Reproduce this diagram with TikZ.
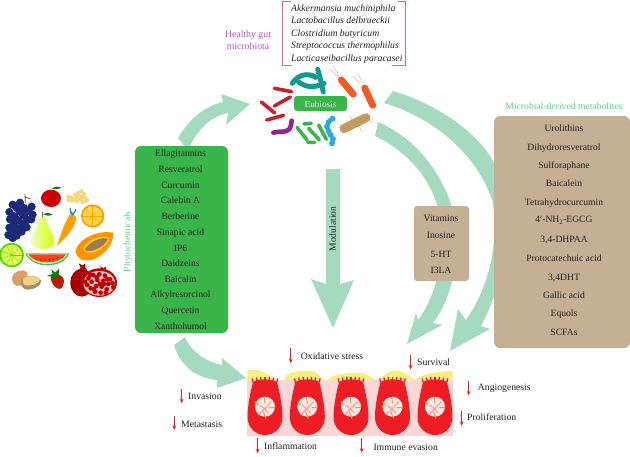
\documentclass[tikz,border=0pt]{standalone}
\usepackage{fontspec}
\setmainfont{Liberation Serif}
\usetikzlibrary{arrows.meta}
\definecolor{flow}{HTML}{A6DABF}
\definecolor{leafbox}{HTML}{39B54A}
\definecolor{tan}{HTML}{C5AF95}
\definecolor{ink}{HTML}{222222}
\definecolor{lightgreen}{HTML}{62D27F}
\definecolor{plum}{HTML}{BB55BB}
\definecolor{frame}{HTML}{DE6B75}
\definecolor{tissue}{HTML}{FBD6D6}
\definecolor{mucus}{HTML}{F8EE7E}
\definecolor{cellred}{HTML}{EE1C25}
\definecolor{spike}{HTML}{B9B92E}
\definecolor{nucleus}{HTML}{FBE6E4}
\definecolor{grapeblue}{HTML}{1D2A7A}
\definecolor{rodred}{HTML}{C4222E}
\definecolor{rodteal}{HTML}{14998F}
\definecolor{rodorange}{HTML}{F15A22}
\definecolor{rodbrown}{HTML}{C49A63}
\definecolor{rodblue}{HTML}{27AAE1}
\definecolor{rodpurple}{HTML}{92278F}
\tikzset{
  flowshape/.style={fill=flow,draw=none},
  evenline/.style={text height=7pt,text depth=0pt,inner sep=0pt},
  listtext/.style={evenline,font=\fontsize{9.6}{9.6}\selectfont,text=ink,anchor=center},
  marklabel/.style={evenline,font=\fontsize{9.7}{9.7}\selectfont,text=ink,anchor=west},
  strain/.style={evenline,font=\itshape\fontsize{9.7}{9.7}\selectfont,text=ink,anchor=west},
  downmark/.style={draw=cellred,line width=0.8pt,-{Stealth[length=4.5pt,width=3.8pt]}},
  bug/.style={line cap=round,line join=round},
  grape/.style={fill=grapeblue},
}
% red decrease marker with its caption
\newcommand{\decrease}[7]{%
  \coordinate (#1a) at (#2,#3);
  \coordinate (#1b) at (#2,#4);
  \draw[downmark] (#1a) -- (#1b);
  \node[marklabel] (#1) at (#5,#6) {#7};
}
\begin{document}
\begin{tikzpicture}[x=1pt,y=-1pt]
\useasboundingbox (0,0) rectangle (630,456);

% broad flow arrows, drawn first so that the panels cover them
\fill[flowshape] (178,138) .. controls (190,118) and (205,106) .. (223,102) -- (221,94) -- (250,104) -- (226,125) -- (228,113) .. controls (212,116) and (198,128) .. (188,150) -- cycle;
\fill[flowshape] (326,169) -- (340,169) -- (340,284) -- (354,280) -- (333,328) -- (311,279) -- (326,284) -- cycle;
\fill[flowshape] (393,91) .. controls (440,105) and (480,135) .. (494,163) .. controls (515,210) and (510,270) .. (481,326) -- (490,329) -- (450,351) -- (458,309) -- (466,320) .. controls (490,285) and (498,245) .. (493,203) .. controls (480,160) and (440,120) .. (384,103) -- cycle;
\fill[flowshape] (378,122) .. controls (415,138) and (440,170) .. (452,207) .. controls (462,245) and (455,295) .. (433,323) -- (442,325) -- (407,344) -- (416,313) -- (418,320) .. controls (440,290) and (447,245) .. (438,207) .. controls (428,175) and (405,150) .. (375,136) -- cycle;
\fill[flowshape] (174,345) -- (185,337) .. controls (190,350) and (205,362) .. (222,365) -- (222,358) -- (246,378) -- (217,388) -- (217,380) .. controls (195,378) and (180,365) .. (174,345) -- cycle;
\node[font=\fontsize{9.6}{9.6}\selectfont,text=ink,rotate=90,inner sep=0pt] (modulation) at (332.7,229) {Modulation};

% phytochemical panel
\fill[leafbox,rounded corners=6pt] (135,146) rectangle (228,333);
\foreach \txt/\yy [count=\i] in {Ellagitannins/153.3,Resveratrol/169,Curcumin/184.7,Calebin A/200.3,Berberine/216.3,Sinapic acid/232,IP6/247.7,Daidzeins/263,Baicalin/279,Alkylresorcinol/294.3,Quercetin/310.3,Xanthohumol/325.7}
  \node[listtext] (phyto\i) at (180.5,\yy) {\txt};
\node[font=\fontsize{9.6}{9.6}\selectfont,text=lightgreen,rotate=90,inner sep=0pt] (phytolabel) at (128,241.7) {Phytochemicals};

% metabolite panels
\fill[tan,rounded corners=6pt] (494,116) rectangle (630,348);
\foreach \txt/\yy [count=\i] in {Urolithins/127.7,Dihydroresveratrol/146.7,Sulforaphane/165.3,Baicalein/183.3,Tetrahydrocurcumin/201.7,{4′-NH\textsubscript{2}-EGCG}/219.3,{3,4-DHPAA}/239,Protocatechuic acid/257.7,{3,4DHT}/276.7,Gallic acid/294.7,Equols/313,SCFAs/331.7}
  \node[listtext] (metab\i) at (564,\yy) {\txt};
\node[font=\fontsize{9.65}{9.65}\selectfont,text=lightgreen,evenline] (metablabel) at (564,105.7) {Microbial-derived metabolites};
\fill[tan,rounded corners=3pt] (414,206) rectangle (469,281);
\foreach \txt/\yy [count=\i] in {Vitamins/217.7,Inosine/234.7,5-HT/253.7,I3LA/269.7}
  \node[listtext] (small\i) at (441,\yy) {\txt};

% species frame and names
\draw[frame,line width=0.7pt] (292,65) -- (282.5,65) -- (282.5,1) -- (291,1);
\draw[frame,line width=0.7pt] (392,65) -- (405.5,65) -- (405.5,1) -- (398,1);
\foreach \txt/\yy [count=\i] in {Akkermansia muchiniphila/8,Lactobacillus delbrueckii/20.3,Clostridium butyricum/32.7,Streptococcus thermophilus/45,Lacticaseibacillus paracasei/58}
  \node[strain] (strain\i) at (291,\yy) {\txt};
\node[font=\fontsize{9.8}{11.5}\selectfont,text=plum,align=center,inner sep=0pt] (healthy) at (248,40) {Healthy gut\\microbiota};

% the microbial community
\begin{scope}[shift={(210,0)},x=0.3333pt,y=-0.3333pt]
  \draw[bug,line width=3.6pt,draw=rodred] (193,265) -- (245,275) (193,318) -- (241,291) (154,306) -- (194,339) (170,360) -- (221,346);
  \draw[bug,line width=5pt,draw=rodteal] (247,250) .. controls (265,222) and (295,218) .. (318,232);
  \draw[bug,line width=5pt,draw=rodteal] (323,208) .. controls (330,230) and (335,255) .. (340,276);
  \draw[bug,line width=5pt,draw=rodteal] (265,245) .. controls (285,262) and (315,265) .. (342,250);
  \draw[bug,line width=6.8pt,draw=rodorange] (394,240) -- (430,283) (464,264) -- (488,316);
  \draw[line width=0.35pt,draw=red!45] (387,232) .. controls (375,225) and (370,215) .. (358,208) (385,230) .. controls (385,215) and (375,212) .. (370,198) (450,250) .. controls (440,245) and (440,235) .. (428,228) (455,248) .. controls (455,235) and (445,232) .. (445,220);
  \draw[bug,line width=9pt,draw=rodbrown] (402,386) -- (468,353);
  \draw[line width=0.35pt,draw=rodbrown] (395,380) -- (388,372) (425,358) -- (420,348) (478,360) -- (485,368) (450,385) -- (455,395);
  \draw[bug,line width=4.2pt,draw=rodblue] (368,355) .. controls (345,370) and (350,385) .. (358,400) .. controls (365,410) and (372,420) .. (366,430);
  \foreach \a/\b in {368/356,356/366,351/379,356/393,362/405,369/417,366/430}
    \fill[rodblue] (\a,\b) circle (2.9pt);
  \draw[bug,line width=3.6pt,draw=leafbox] (282,372) -- (304,370) (261,382) -- (291,420) (296,385) -- (328,420) (326,375) -- (349,418) (293,427) -- (314,427);
  \draw[bug,line width=4.6pt,draw=rodpurple] (190,398) .. controls (205,392) and (225,400) .. (238,388) .. controls (245,380) and (243,370) .. (245,362);
\end{scope}
\fill[leafbox,rounded corners=3pt] (294,96) rectangle (347,111);
\node[font=\fontsize{9.2}{9.2}\selectfont,text=white!85!leafbox,inner sep=0pt] (eubiosis) at (320.5,104) {Eubiosis};

% fruit and vegetables
\begin{scope}[shift={(0,180)},x=0.3333pt,y=-0.3333pt]
  % grapes
  \draw[brown!70!black,line width=0.9pt] (75,42) -- (76,68) (76,52) -- (92,56);
  \foreach \a/\b in {38/74,60/68,50/84,72/84,95/80,28/96,60/96,85/94,42/108,72/108,98/104,30/118,55/120,82/120,94/118,42/132,68/132,28/143,55/145,80/142,42/156,65/155,25/165,50/167,38/174}
    \fill[grape] (\a,\b) circle (4.1pt);
  % apple
  \fill[red!80!black] (153,55) ellipse (30 and 26);
  \fill[green!50!black] (156,27) .. controls (165,18) and (175,18) .. (184,24) .. controls (175,28) and (165,28) .. (156,27) -- cycle;
  % chickpeas
  \foreach \a/\b in {205/60,215/52,225/44,235/38,245/34,215/62,228/54,240/48,252/42,230/64,243/58,255/52,262/60,248/66,205/50,220/60,235/58,248/50,232/46,258/62}
    \fill[orange!40!yellow!70!brown!55] (\a,\b) circle (2pt);
  % orange
  \fill[orange!80!yellow] (278,108) circle (11.6pt);
  \fill[orange!45!yellow!70] (278,108) circle (9.8pt);
  \foreach \t in {0,45,...,315}
    \draw[orange!70!yellow,line width=0.4pt] (278,108) -- ++(\t:29);
  % pear
  \shade[left color=green!30!yellow!25,right color=lime!75!yellow,draw=none] (128,108) .. controls (140,110) and (142,135) .. (150,150) .. controls (165,172) and (170,190) .. (150,204) .. controls (130,210) and (100,208) .. (93,185) .. controls (90,165) and (112,145) .. (115,130) .. controls (117,115) and (120,108) .. (128,108) -- cycle;
  \draw[brown!70!black,line width=0.6pt] (126,110) -- (126,97);
  \fill[green!50!black] (130,103) .. controls (140,97) and (150,98) .. (158,105) .. controls (148,108) and (138,108) .. (130,103) -- cycle;
  % carrot
  \fill[orange!75!yellow] (171,198) .. controls (180,170) and (195,125) .. (208,106) .. controls (215,100) and (228,105) .. (229,115) .. controls (222,150) and (195,175) .. (171,198) -- cycle;
  \draw[rodteal,line width=1.2pt] (214,104) -- (210,84) (218,105) -- (228,88) (220,105) -- (212,94);
  % papaya
  \fill[orange!85!yellow] (226,212) .. controls (240,170) and (300,150) .. (340,158) .. controls (345,190) and (300,250) .. (250,240) .. controls (235,235) and (228,225) .. (226,212) -- cycle;
  \fill[yellow!60!orange!80] (250,205) .. controls (270,170) and (315,165) .. (328,175) .. controls (325,200) and (280,225) .. (258,216) -- cycle;
  \fill[brown!75!black!85] (255,207) .. controls (275,178) and (312,170) .. (324,177) .. controls (318,195) and (282,218) .. (260,213) -- cycle;
  % lime
  \fill[green!55!lime!85!black] (35,225) circle (12.3pt);
  \fill[lime!60!yellow!65] (35,225) circle (10.4pt);
  \foreach \t in {0,40,...,320}
    \draw[green!45!lime!85!black,line width=0.4pt] (35,225) -- ++(\t:30);
  % watermelon
  \fill[green!60!black!70] (76,220) .. controls (95,268) and (190,268) .. (208,220) -- cycle;
  \fill[white!70!green] (80,221) .. controls (100,262) and (185,262) .. (203,221) -- cycle;
  \fill[red!65!orange!90] (85,223) .. controls (105,255) and (180,255) .. (198,223) -- cycle;
  \foreach \a/\b in {108/237,122/240,135/240,148/240,160/238,173/233}
    \fill[black!80] (\a,\b) circle (0.7pt);
  % nuts
  \fill[brown!75!orange!75] (36,292) .. controls (40,275) and (68,262) .. (82,278) .. controls (85,300) and (70,320) .. (50,318) .. controls (40,312) and (36,305) .. (36,292) -- cycle;
  \fill[brown!70!black!70] (62,308) .. controls (65,285) and (110,280) .. (124,302) .. controls (124,320) and (95,332) .. (75,328) .. controls (66,323) and (62,318) .. (62,308) -- cycle;
  \fill[orange!35!yellow!55!brown!55] (68,300) .. controls (75,285) and (110,285) .. (120,298) .. controls (118,312) and (90,320) .. (72,315) -- cycle;
  % strawberry
  \fill[red!70!orange!75!black] (152,292) .. controls (165,280) and (185,282) .. (191,296) .. controls (194,310) and (188,328) .. (178,327) .. controls (165,325) and (152,308) .. (152,292) -- cycle;
  \fill[green!50!black] (140,288) -- (158,282) -- (154,268) -- (166,278) -- (178,266) -- (176,282) -- (182,292) -- (168,288) -- (158,300) -- (156,290) -- cycle;
  % pomegranate
  \fill[red!65!black] (242,262) -- (236,250) -- (248,256) -- (256,250) -- (256,262) -- (262,272) -- (236,272) -- cycle;
  \fill[red!65!black] (245,308) ellipse (34 and 42);
  \fill[red!75!black] (303,262) -- (298,258) -- (310,264) -- (318,260) -- (316,276) -- (296,276) -- cycle;
  \fill[red!75!black] (298,308) ellipse (53 and 43);
  \fill[red!20!white] (298,310) ellipse (48 and 37);
  \foreach \a/\b in {265/295,280/285,298/283,315/287,330/298,262/315,275/305,292/300,310/302,325/312,338/310,272/325,288/318,305/320,320/328,285/335,302/338,318/338,255/305,270/285,290/292,322/298,300/312,282/328,340/322,312/312}
    \fill[red!75!black] (\a,\b) circle (2.4pt);
\end{scope}

% tumour epithelium
\fill[tissue] (247.3,380) rectangle (452.7,435.7);
\begin{scope}[shift={(160,340)},x=0.3333pt,y=-0.3333pt]
  \fill[mucus] (262,120) -- (262,92) .. controls (285,85) and (315,90) .. (345,120) -- cycle;
  \fill[mucus] (373,120) .. controls (376,92) and (430,92) .. (450,92) .. controls (470,95) and (480,108) .. (490,120) -- cycle;
  \fill[mucus] (503,120) .. controls (515,100) and (590,95) .. (610,100) .. controls (625,105) and (640,115) .. (650,120) -- cycle;
  \fill[mucus] (660,120) .. controls (675,95) and (705,85) .. (725,95) .. controls (745,105) and (755,112) .. (765,120) -- cycle;
  \fill[mucus] (765,120) .. controls (785,100) and (840,95) .. (877,92) -- (878,120) -- cycle;
\end{scope}
\foreach \cx in {265,307.3,351,392.5,435}{
  \begin{scope}[shift={(\cx,0)}]
    % microvilli along the apical edge
    \foreach \t in {-12,-8,-4,0,4,8,12}
      \draw[cellred,line width=1.3pt] (\t,{380.5+0.012*\t*\t}) -- ++({\t*0.06},-3.8);
    % cell body
    \fill[cellred] (-12,382) .. controls (-6,378.5) and (6,378.5) .. (12,382) .. controls (14,390) and (17.5,405) .. (17.5,417) .. controls (17.5,428) and (9,435) .. (0,435) .. controls (-9,435) and (-17.5,428) .. (-17.5,417) .. controls (-17.5,405) and (-14,390) .. (-12,382) -- cycle;
    % nucleus
    \fill[nucleus] (0,406.7) circle (10);
    \draw[red!40!white,line width=1pt] (-6.7,415) -- (6.7,401.7) (-5,405) -- (3.3,412.7);
    \draw[spike,line width=1pt] (-10,401.7) -- (-6.7,405) (-0.7,397.4) -- (0,403.4) (4.3,407.7) -- (10,407.7) (-1.7,411.7) -- (1,418.4);
  \end{scope}
}

% effect markers
\decrease{oxid}{290.7}{348.3}{363.3}{300.7}{355.7}{Oxidative stress}
\decrease{surv}{410.7}{355}{369.3}{417}{362.3}{Survival}
\decrease{angio}{468.7}{380.7}{395.3}{477.7}{386.7}{Angiogenesis}
\decrease{prolif}{461.7}{411}{425.7}{467}{416.7}{Proliferation}
\decrease{inva}{181.7}{389.3}{403.3}{188}{395.7}{Invasion}
\decrease{meta}{174.3}{416}{430}{181}{424.3}{Metastasis}
\decrease{inflam}{257.7}{438.3}{453.3}{264}{445.7}{Inflammation}
\decrease{immune}{361.7}{438.3}{452.7}{373.3}{446.7}{Immune evasion}
\end{tikzpicture}
\end{document}
